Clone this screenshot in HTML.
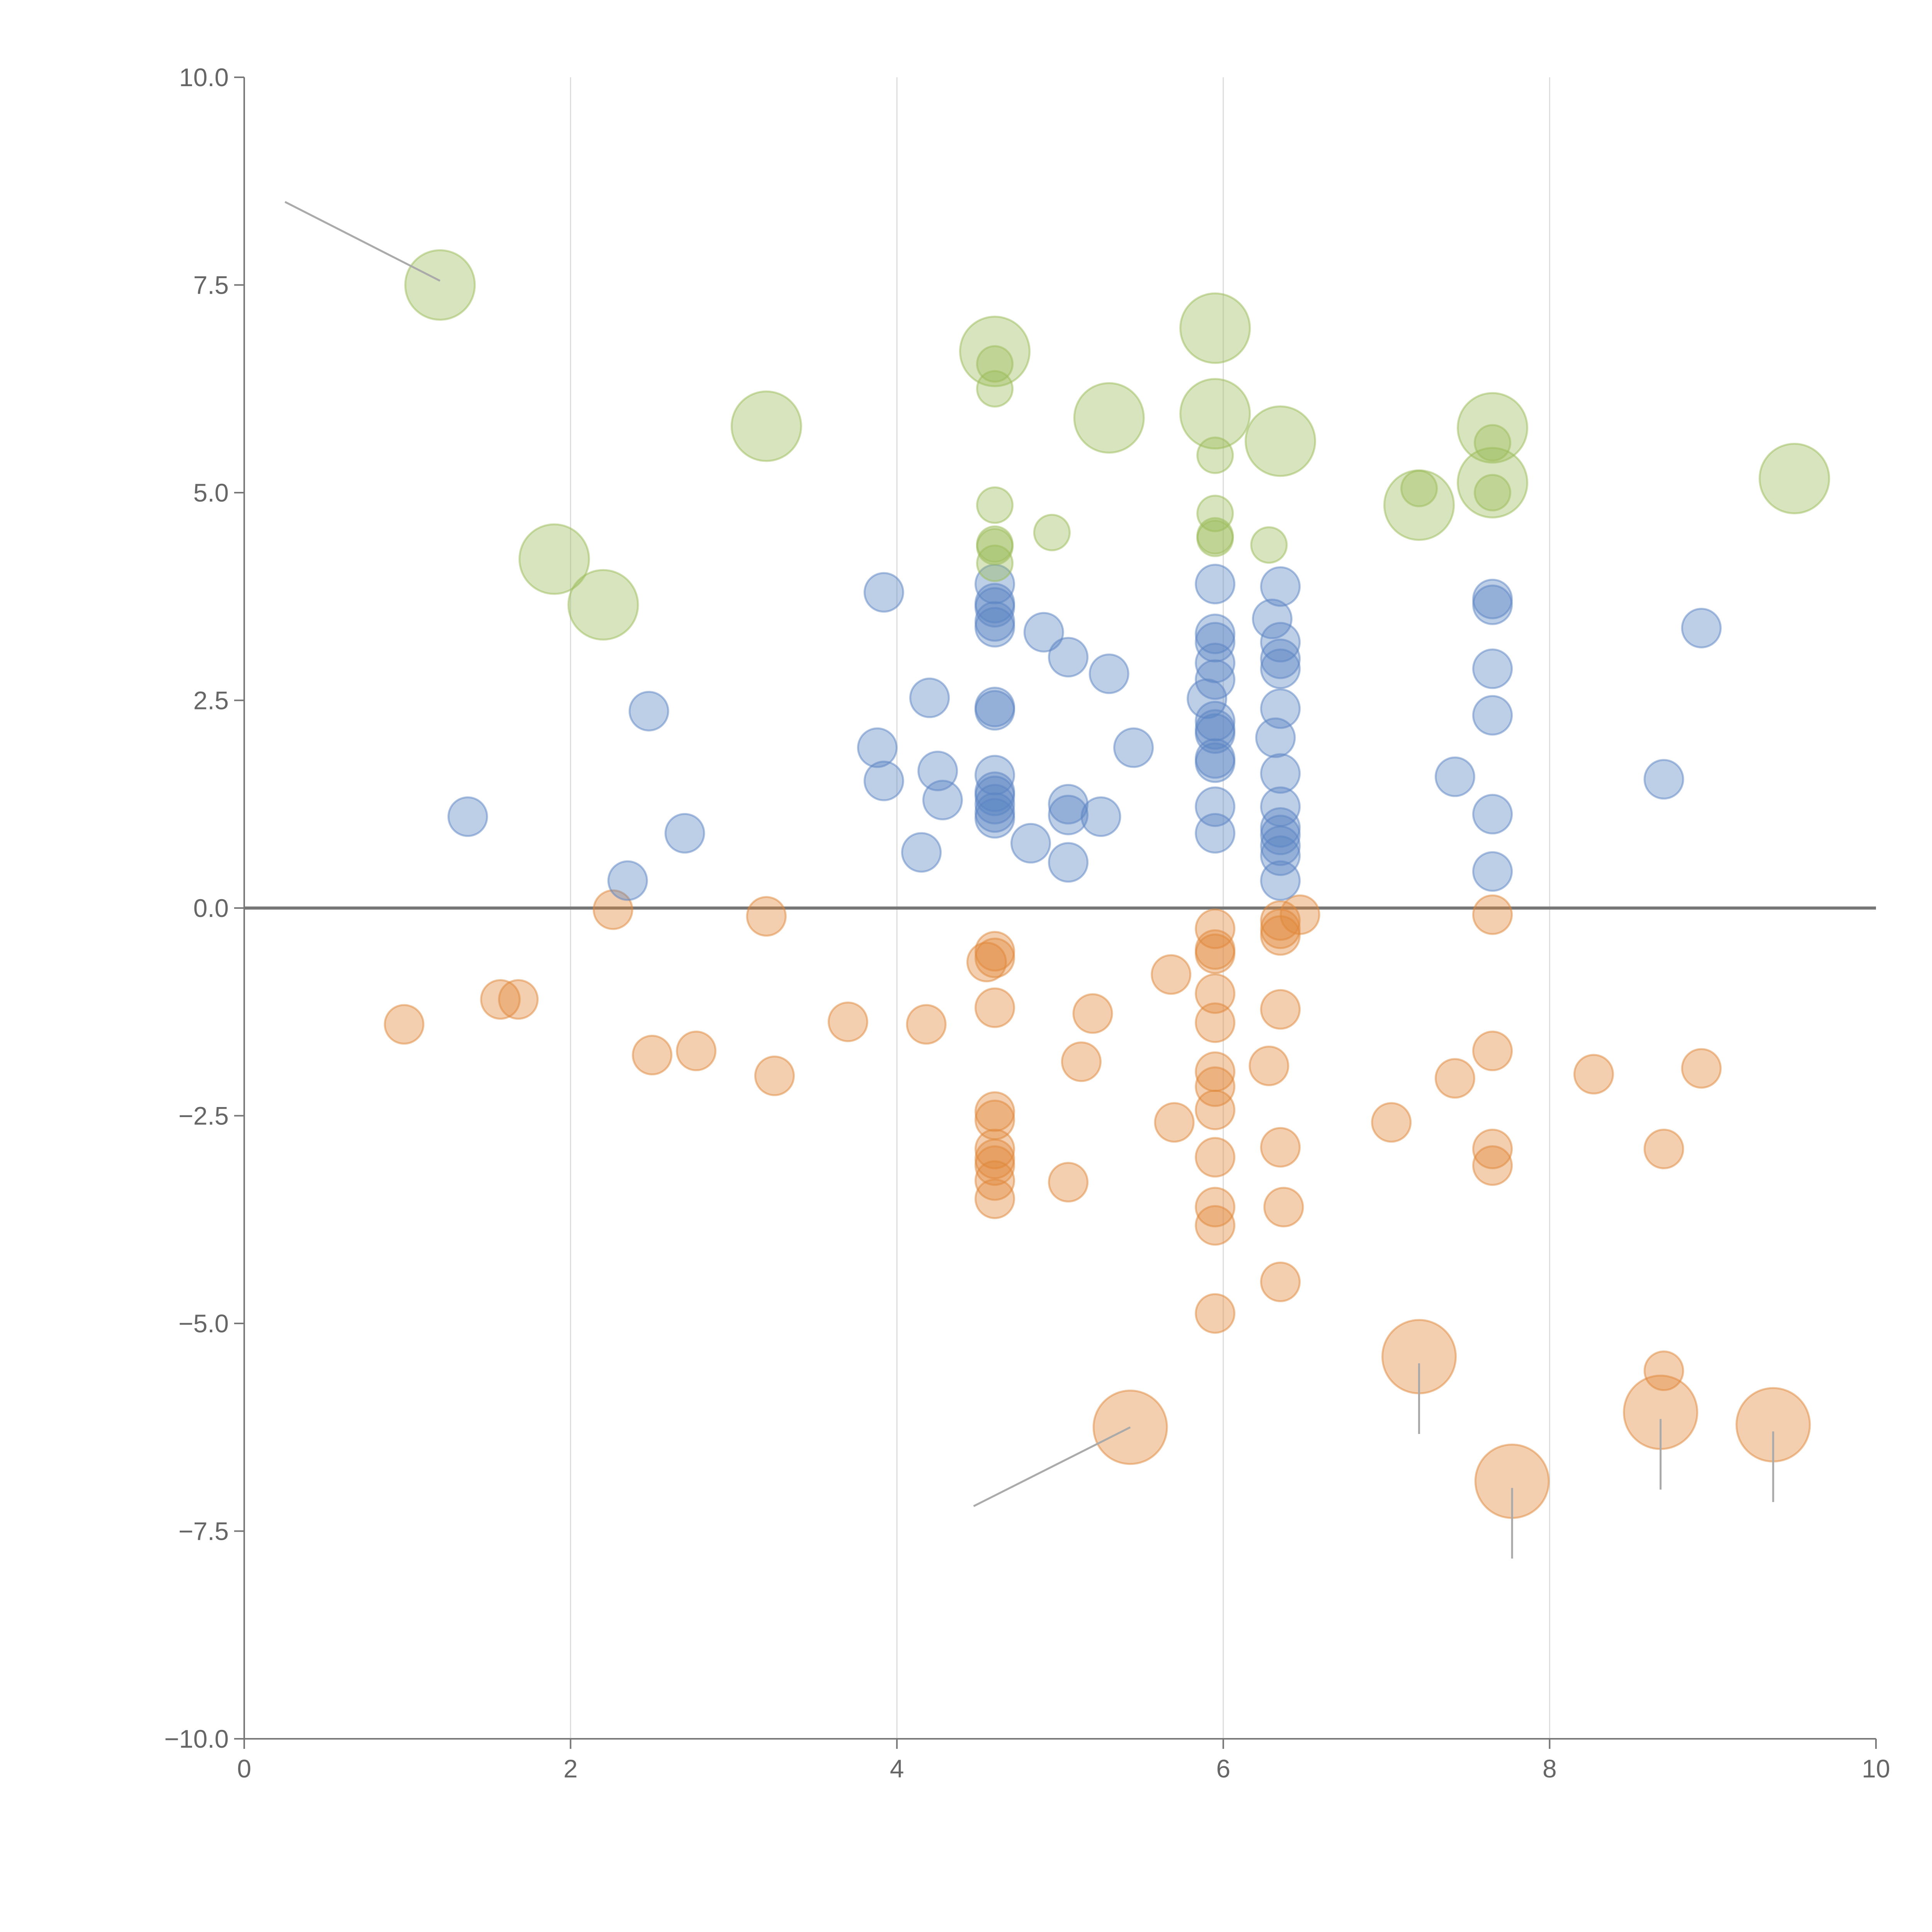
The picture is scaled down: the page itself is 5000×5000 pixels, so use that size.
<!DOCTYPE html>
<html><head><meta charset="utf-8"><style>
html,body{margin:0;padding:0;background:#fff;width:5000px;height:5000px;overflow:hidden}
svg{display:block}
text{font-family:"Liberation Sans",sans-serif;fill:#666;font-size:66px}
</style></head><body>
<svg id="chart" width="5000" height="5000" viewBox="0 0 5000 5000" xmlns="http://www.w3.org/2000/svg">
<g id="grid"></g>
<g id="axes"></g>
<g id="marks"></g>
</svg>
<script>
const xTicks=[0,2,4,6,8,10];
const yTicks=[-10,-7.5,-5,-2.5,0,2.5,5,7.5,10];
const greenBigX=[1.2,3.2,1.9,2.2,4.6,5.3,5.95,5.95,6.35,7.65,7.65,7.2,9.5];
const greenBigY=[7.5,5.8,4.2,3.65,6.7,5.9,6.98,5.95,5.62,5.78,5.12,4.85,5.17];
const greenX=[4.6,4.6,4.6,4.6,4.6,4.6,4.95,5.95,5.95,5.95,5.95,6.28,7.2,7.65,7.65];
const greenY=[6.55,6.25,4.85,4.38,4.35,4.15,4.52,5.45,4.75,4.48,4.45,4.37,5.05,5.6,5.0];
const blueX=[1.37,2.35,2.48,2.7,3.88,3.92,3.92,4.15,4.2,4.25,4.28,4.6,4.6,4.6,4.6,4.6,4.6,4.6,4.6,4.6,4.6,4.6,4.6,4.6,4.82,4.9,5.05,5.05,5.05,5.05,5.25,5.3,5.45,5.9,5.95,5.95,5.95,5.95,5.95,5.95,5.95,5.95,5.95,5.95,5.95,5.95,6.3,6.35,6.35,6.35,6.35,6.35,6.32,6.35,6.35,6.35,6.35,6.35,6.35,6.35,7.42,7.65,7.65,7.65,7.65,7.65,7.65,8.7,8.93];
const blueY=[1.1,0.33,2.37,0.9,1.93,1.53,3.8,0.67,2.53,1.65,1.3,3.9,3.67,3.62,3.45,3.38,2.42,2.38,1.6,1.4,1.35,1.25,1.15,1.08,0.78,3.32,3.02,1.25,1.12,0.55,1.1,2.82,1.93,2.52,3.9,3.3,3.2,2.95,2.75,2.25,2.15,2.1,1.8,1.75,1.22,0.9,3.48,3.87,3.2,3.0,2.88,2.4,2.05,1.62,1.22,0.97,0.88,0.75,0.63,0.33,1.58,3.72,3.65,2.88,2.32,1.13,0.44,1.55,3.37];
const orangeX=[0.98,1.57,1.68,2.26,2.5,2.77,3.2,3.25,3.7,4.18,4.55,4.6,4.6,4.6,4.6,4.6,4.6,4.6,4.6,4.6,4.6,5.05,5.13,5.2,5.68,5.7,5.95,5.95,5.95,5.95,5.95,5.95,5.95,5.95,5.95,5.95,5.95,5.95,6.28,6.35,6.35,6.35,6.35,6.35,6.37,6.35,6.47,7.03,7.42,7.65,7.65,7.65,7.65,8.27,8.7,8.7,8.93];
const orangeY=[-1.4,-1.1,-1.1,-0.02,-1.77,-1.72,-0.1,-2.02,-1.37,-1.4,-0.65,-0.52,-0.6,-1.2,-2.45,-2.55,-2.9,-3.02,-3.1,-3.28,-3.5,-3.3,-1.85,-1.27,-0.8,-2.58,-0.25,-0.5,-0.55,-1.03,-1.38,-1.97,-2.15,-2.43,-3.0,-3.6,-3.82,-4.88,-1.9,-0.15,-0.25,-0.33,-1.22,-2.88,-3.6,-4.5,-0.08,-2.58,-2.05,-0.08,-1.72,-2.9,-3.1,-2.0,-2.9,-5.57,-1.93];
const orangeBigX=[5.43,7.2,7.77,8.68,9.37];
const orangeBigY=[-6.25,-5.4,-6.9,-6.07,-6.22];
const NS="http://www.w3.org/2000/svg";
const X0=632,X1=4855,Y0=4500,Y1=200;
function sx(v){return X0+(v-0)/10*(X1-X0);}
function sy(v){return Y0-(v+10)/20*(Y0-Y1);}
function mk(tag,attrs,parent){const e=document.createElementNS(NS,tag);for(const k in attrs)e.setAttribute(k,attrs[k]);parent.appendChild(e);return e;}
const grid=document.getElementById('grid'),axes=document.getElementById('axes'),marks=document.getElementById('marks');
xTicks.forEach(t=>{
 if(t>0&&t<10){const g=mk('line',{x1:sx(t),x2:sx(t),y1:Y1,y2:Y0,stroke:'#dcdcdc','stroke-width':3},grid);
 
 }
 const tk=mk('line',{x1:sx(t),x2:sx(t),y1:Y0,y2:Y0+26,stroke:'#777','stroke-width':4},axes);
 
 
 const tx=mk('text',{x:sx(t),y:Y0+100,'text-anchor':'middle'},axes);tx.textContent=String(t);
 
 
});
yTicks.forEach(t=>{
 const tk=mk('line',{x1:X0-26,x2:X0,y1:sy(t),y2:sy(t),stroke:'#777','stroke-width':4},axes);
 
 
 const tx=mk('text',{x:X0-40,y:sy(t)+23,'text-anchor':'end'},axes);tx.textContent=t.toFixed(1).replace('-','\u2212');
 
 
});
let a=mk('line',{x1:X0,x2:X0,y1:Y1,y2:Y0,stroke:'#777','stroke-width':4},axes);


a=mk('line',{x1:X0,x2:X1,y1:Y0,y2:Y0,stroke:'#777','stroke-width':4},axes);


a=mk('line',{x1:X0,x2:X1,y1:sy(0),y2:sy(0),stroke:'#777','stroke-width':8},axes);


function series(xs,ys,r,fill,name){
 xs.forEach((x,i)=>{const c=mk('circle',{cx:sx(x),cy:sy(ys[i]),r:r,fill:fill,'fill-opacity':0.4,stroke:fill,'stroke-opacity':0.5,'stroke-width':5},marks);
 
 });
}
series(orangeX,orangeY,50,'#e0873a','orange-point');
series(blueX,blueY,50,'#5b84c4','blue-point');
series(greenX,greenY,46,'#9bbb59','green-point');
series(greenBigX,greenBigY,90,'#9bbb59','green-bubble');
series(orangeBigX,orangeBigY,95,'#e0873a','orange-bubble');
function leader(x1,y1,x2,y2){const l=mk('line',{x1:sx(x1),y1:sy(y1),x2:sx(x2),y2:sy(y2),stroke:'#aaa','stroke-width':5},marks);
 
 }
leader(0.25,8.5,1.2,7.55);
leader(5.43,-6.25,4.47,-7.2);
orangeBigX.slice(1).forEach((x,i)=>leader(x,orangeBigY[i+1]-0.08,x,orangeBigY[i+1]-0.93));
</script>
</body></html>
